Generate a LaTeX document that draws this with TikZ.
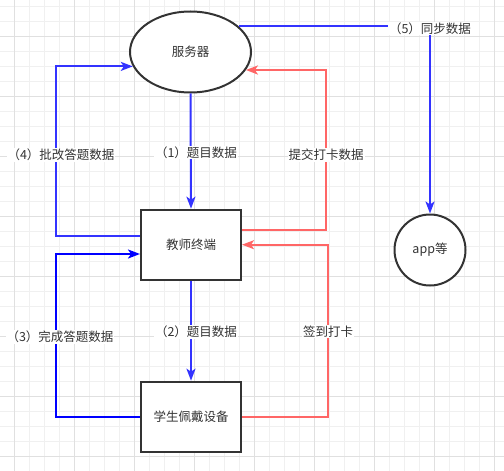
\documentclass[tikz,border=0pt]{standalone}
\usepackage{fontspec}
\setmainfont{Noto Sans CJK SC}
\usetikzlibrary{arrows.meta,shapes.geometric,calc}
\definecolor{txt}{HTML}{333333}
\definecolor{bl}{HTML}{3333FF}
\definecolor{bldeep}{HTML}{0000FF}
\definecolor{rd}{HTML}{FF6666}
\definecolor{gminor}{HTML}{F0F0F0}
\definecolor{gmajor}{HTML}{E0E0E0}
\tikzset{
  box/.style={draw=txt, line width=2pt, fill=white, minimum width=100pt, minimum height=70pt, inner sep=0pt, text=txt, font=\fontsize{12.5}{14}\selectfont},
  oval/.style={ellipse, draw=txt, line width=2pt, fill=white, minimum width=121pt, minimum height=81pt, inner sep=0pt, text=txt, font=\fontsize{12.5}{14}\selectfont},
  roundnode/.style={circle, draw=txt, line width=2pt, fill=white, minimum size=71pt, inner sep=0pt, text=txt, font=\fontsize{12.5}{14}\selectfont},
  conn/.style={line width=2pt, -{Stealth[length=12pt,width=9pt,inset=3pt]}},
  lbl/.style={fill=white, text=txt, inner sep=1pt, font=\fontsize{12.5}{14}\selectfont},
}
\begin{document}
\begin{tikzpicture}[x=1pt,y=-1pt]
\useasboundingbox (0,0) rectangle (504,471);
\fill[white] (0,0) rectangle (504,471);
% grid
\foreach \i in {0,...,33} {
  \draw[gminor, line width=0.8pt] ({-0.7+15*\i},0) -- ({-0.7+15*\i},471);
}
\foreach \j in {0,...,31} {
  \draw[gminor, line width=0.8pt] (0,{6+15*\j}) -- (504,{6+15*\j});
}
\foreach \i in {0,...,8} {
  \draw[gmajor, line width=0.8pt] ({14.3+60*\i},0) -- ({14.3+60*\i},471);
}
\foreach \j in {0,...,7} {
  \draw[gmajor, line width=0.8pt] (0,{36+60*\j}) -- (504,{36+60*\j});
}

% nodes
\node[oval] (srv) at (190.5,52) {服务器};
\node[box] (t) at (191,244.7) {教师终端};
\node[box] (s) at (191,416.7) {学生佩戴设备};
\node[roundnode] (app) at (430,250) {app等};

% connectors
\draw[conn, bl] (srv.south) -- (t.north);
\draw[conn, bl] (t.south) -- (s.north);
\draw[conn, bl] ($(t.west)+(0,-9)$) -- ++(-84,0) |- (srv.194.6);
\draw[conn, bldeep] (s.west) -- ++(-84,0) |- ($(t.west)+(0,9.3)$);
\draw[conn, rd] ($(t.east)+(0,-14.7)$) -- ++(84,0) |- (srv.342.5);
\draw[conn, rd] (s.east) -- ++(86,0) |- (t.east);
\draw[conn, bl] (srv.28) -| (app.north);

% labels
\node[lbl] (l1) at (196,152.5) {（1）题目数据};
\node[lbl] (l2) at (196,331.7) {（2）题目数据};
\node[lbl] (l3) at (60,337) {（3）完成答题数据};
\node[lbl] (l4) at (61,155) {（4）批改答题数据};
\node[lbl] (l5) at (430,28.5) {（5）同步数据};
\node[lbl] (lsub) at (326,155) {提交打卡数据};
\node[lbl] (lsign) at (328,331.7) {签到打卡};
\end{tikzpicture}
\end{document}
